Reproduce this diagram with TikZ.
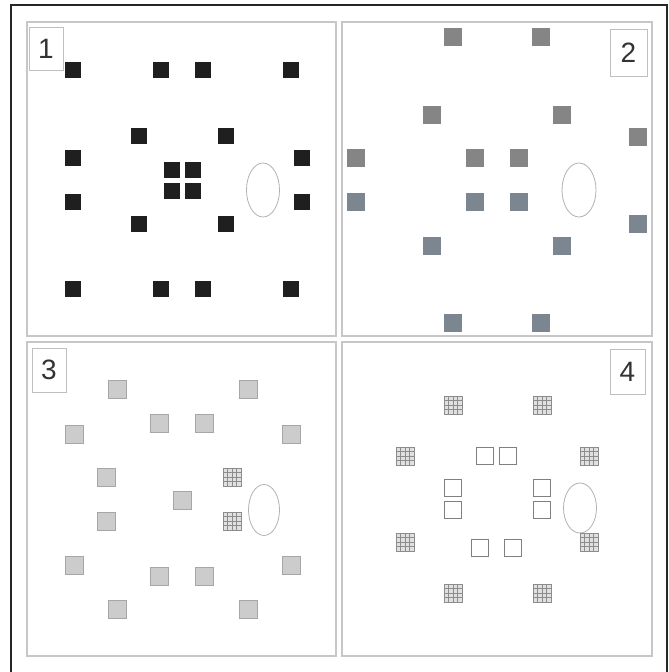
\documentclass[tikz,border=0pt]{standalone}
\usepackage{fontspec}
\setmainfont{Liberation Sans}
\begin{document}
\begin{tikzpicture}[x=1pt,y=-1pt,
  panel/.style={draw=black!22,line width=2.2pt},
  panelin/.style={draw=black!12,line width=0.8pt},
  lab/.style={draw=black!25,line width=0.6pt,inner sep=0pt,font=\fontsize{28}{28}\selectfont,text=black!80},
  sqbase/.style={rectangle,inner sep=0pt,minimum size=#1},
  sqA/.style={sqbase=16pt,fill=black!88},
  sqB/.style={sqbase=18pt,fill=black!48},
  sqC/.style={sqbase=18pt,fill={rgb,255:red,123;green,134;blue,145}},
  sqD/.style={sqbase=18pt,fill=black!20,draw=black!35,line width=0.8pt},
  sqH/.style={sqbase=18pt,fill=black!12,draw=black!45,line width=0.7pt,
    path picture={
      \foreach \k in {-4.5,0,4.5}{
        \draw[black!45,line width=0.5pt] ([xshift=\k pt]path picture bounding box.north) -- ([xshift=\k pt]path picture bounding box.south);
        \draw[black!45,line width=0.5pt] ([yshift=\k pt]path picture bounding box.west) -- ([yshift=\k pt]path picture bounding box.east);
      }}},
  sqO/.style={sqbase=17pt,draw=black!50,line width=0.9pt,fill=white},
  ell/.style={draw=black!30,line width=0.8pt}
]
\useasboundingbox (0,0) rectangle (669,672);
\fill[white] (0,0) rectangle (669,672);
% outer frame
\draw[black!85,line width=1.6pt] (11,672) -- (11,5) -- (667,5) -- (667,672);
% panels
\draw[panel] (27,22) rectangle (336,336);
\draw[panel] (342,22) rectangle (652,336);
\draw[panel] (27,342) rectangle (336,656);
\draw[panel] (342,342) rectangle (652,656);
% label boxes
\node[lab,minimum width=34pt,minimum height=43pt] (l1) at (46,48.5) {1};
\node[lab,minimum width=37pt,minimum height=47pt] (l2) at (628.5,52.5) {2};
\node[lab,minimum width=34pt,minimum height=44pt] (l3) at (49,370) {3};
\node[lab,minimum width=35pt,minimum height=45pt] (l4) at (627.5,371.5) {4};
% panel 1
\foreach \p [count=\i] in {(73,70),(161,70),(203,70),(291,70),(139,136),(226,136),(73,158),(302,158),
  (172,170),(193,170),(172,191),(193,191),(73,202),(302,202),(139,224),(226,224),
  (73,289),(161,289),(203,289),(291,289)}
  \node[sqA] (a\i) at \p {};
\draw[ell] (263,190) ellipse [x radius=16.5,y radius=27];
% panel 2
\foreach \p [count=\i] in {(453,37),(541,37),(432,115),(562,115),(638,137),(356,158),(475,158),(519,158)}
  \node[sqB] (b\i) at \p {};
\foreach \p [count=\i] in {(356,202),(475,202),(519,202),(638,224),(432,246),(562,246),(453,323),(541,323)}
  \node[sqC] (c\i) at \p {};
\draw[ell] (579,190) ellipse [x radius=17,y radius=27];
% panel 3
\foreach \p [count=\i] in {(117,389),(248,389),(159,423),(204,423),(74,434),(291,434),(106,477),
  (182,500),(106,521),(74,565),(291,565),(159,576),(204,576),(117,609),(248,609)}
  \node[sqD] (d\i) at \p {};
\node[sqH] (h1) at (232,477) {};
\node[sqH] (h2) at (232,521) {};
\draw[ell] (264,510) ellipse [x radius=15.5,y radius=25.5];
% panel 4
\draw[ell] (580,508) ellipse [x radius=16.5,y radius=25];
\foreach \p [count=\i] in {(453,405),(542,405),(405,456),(589,456),(405,542),(589,542),(453,593),(542,593)}
  \node[sqH] (g\i) at \p {};
\foreach \p [count=\i] in {(485,456),(508,456),(453,488),(542,488),(453,510),(542,510),(480,548),(513,548)}
  \node[sqO] (o\i) at \p {};
\end{tikzpicture}
\end{document}
